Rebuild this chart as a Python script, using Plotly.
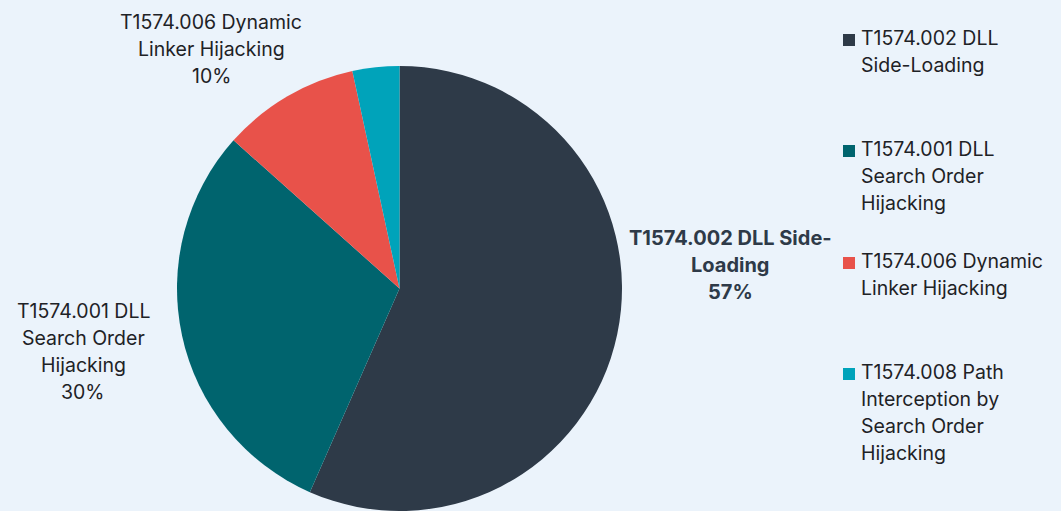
import plotly.graph_objects as go

# Share of observed DLL hijacking sub-techniques (percent)
techniques = [
    "T1574.002 DLL Side-Loading",
    "T1574.001 DLL Search Order Hijacking",
    "T1574.006 Dynamic Linker Hijacking",
    "T1574.008 Path Interception by Search Order Hijacking",
]
shares = [56.6, 30.0, 10.0, 3.4]
colors = ["#2E3A48", "#00646E", "#E8524A", "#00A3BA"]

# Wrapped text lines for the slice labels and the legend
slice_label_lines = [
    ["T1574.002 DLL Side-", "Loading"],
    ["T1574.001 DLL", "Search Order", "Hijacking"],
    ["T1574.006 Dynamic", "Linker Hijacking"],
    None,
]
legend_lines = [
    ["T1574.002 DLL", "Side-Loading"],
    ["T1574.001 DLL", "Search Order", "Hijacking"],
    ["T1574.006 Dynamic", "Linker Hijacking"],
    ["T1574.008 Path", "Interception by", "Search Order", "Hijacking"],
]

W, H = 1061, 511
BG = "#EBF3FB"
FONT = "Inter"
TEXT = "#1E2226"
LINE = 27  # px between text lines

cx, cy, r = 399.5, 288.5, 222.5

fig = go.Figure(
    go.Pie(
        labels=techniques,
        values=shares,
        marker=dict(colors=colors, line=dict(width=0)),
        sort=False,
        direction="clockwise",
        rotation=0,
        textinfo="none",
        hoverinfo="label+percent",
        showlegend=False,
        domain=dict(
            x=[max(0, (cx - r) / W), min(1, (cx + r) / W)],
            y=[max(0, (H - cy - r) / H), min(1, (H - cy + r) / H)],
        ),
    )
)

annotations = []
shapes = []


def px_x(x):
    return x / W


def px_y(y):
    return 1 - y / H


# Slice labels: placement (centre x, first-line y) and weight per slice
label_places = [(730, 238, True), (83, 311, False), (211, 22, False), None]
total = sum(shares)
for lines, place, v in zip(slice_label_lines, label_places, shares):
    if lines is None or place is None:
        continue
    x0, y0, bold = place
    pct = f"{round(100 * v / total)}%"
    for i, t in enumerate(lines + [pct]):
        annotations.append(
            dict(
                x=px_x(x0), y=px_y(y0 + i * LINE), xref="paper", yref="paper",
                text=f"<b>{t}</b>" if bold else t,
                showarrow=False, xanchor="center", yanchor="middle",
                font=dict(family=FONT, size=20 if bold else 19.5,
                          color="#2E3A48" if bold else TEXT),
            )
        )

# Legend drawn as square swatches with wrapped text
legend_top = [38, 149, 261, 372]
for lines, col, y0 in zip(legend_lines, colors, legend_top):
    shapes.append(
        dict(
            type="rect", xref="paper", yref="paper",
            x0=px_x(843), x1=px_x(855), y0=px_y(y0 - 4), y1=px_y(y0 + 8),
            fillcolor=col, line=dict(width=0),
        )
    )
    for i, t in enumerate(lines):
        annotations.append(
            dict(
                x=px_x(859), y=px_y(y0 + i * LINE), xref="paper", yref="paper",
                text=t, showarrow=False, xanchor="left", yanchor="middle",
                font=dict(family=FONT, size=19.5, color=TEXT),
            )
        )

fig.update_layout(
    width=W, height=H,
    margin=dict(l=0, r=0, t=0, b=0),
    paper_bgcolor=BG, plot_bgcolor=BG,
    annotations=annotations, shapes=shapes,
    font=dict(family=FONT),
)

fig.write_html("out.html", config={"displayModeBar": False})
